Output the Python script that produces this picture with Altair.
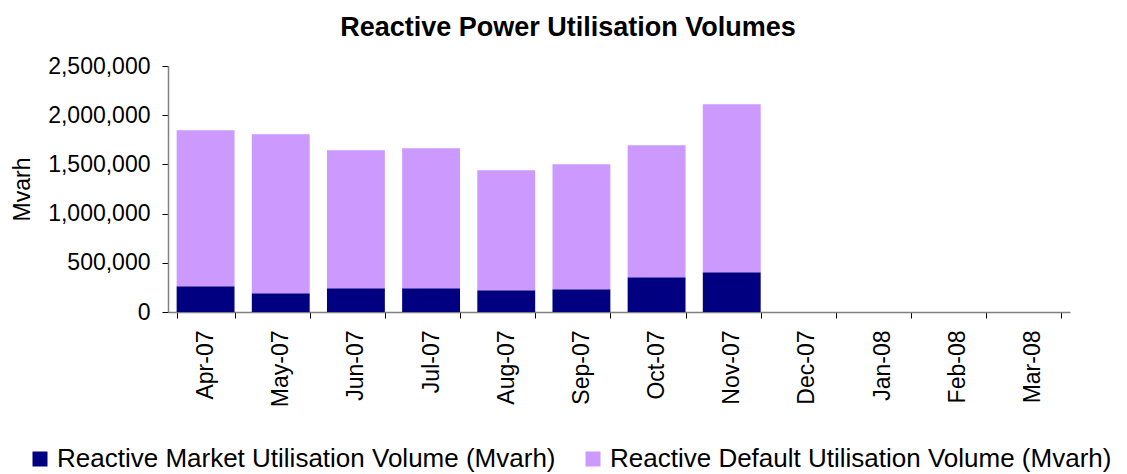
import altair as alt
import pandas as pd

months = ["Apr-07", "May-07", "Jun-07", "Jul-07", "Aug-07", "Sep-07",
          "Oct-07", "Nov-07", "Dec-07", "Jan-08", "Feb-08", "Mar-08"]
market = [261000, 190000, 241000, 241000, 220000, 231000, 353000, 403000, 0, 0, 0, 0]
default = [1585000, 1616000, 1402000, 1422000, 1220000, 1270000, 1341000, 1708000, 0, 0, 0, 0]
series = ["Reactive Market Utilisation Volume (Mvarh)",
          "Reactive Default Utilisation Volume (Mvarh)"]
colors = ["#000080", "#CC99FF"]

rows = []
for i, m in enumerate(months):
    rows.append({"month": m, "series": series[0], "value": market[i], "ord": 0})
    rows.append({"month": m, "series": series[1], "value": default[i], "ord": 1})
df = pd.DataFrame(rows)

FONT = "Liberation Sans"

chart = alt.Chart(df).mark_bar().encode(
    x=alt.X("month:N", sort=months,
            scale=alt.Scale(paddingInner=0.23, paddingOuter=0.115),
            axis=alt.Axis(title=None, labelAngle=270, labelFontSize=23,
                          labelFont=FONT, labelColor="black", labelPadding=12,
                          tickBand="extent", tickSize=6, tickColor="black",
                          domainColor="#808080", domainWidth=1.5)),
    y=alt.Y("value:Q", stack="zero",
            scale=alt.Scale(domain=[0, 2500000], nice=False),
            axis=alt.Axis(title="Mvarh", values=[0, 500000, 1000000, 1500000, 2000000, 2500000],
                          format=",d", grid=False, labelFontSize=23, labelFont=FONT,
                          labelColor="black", labelPadding=12, tickSize=6,
                          tickColor="black", domainColor="#808080", domainWidth=1.5,
                          titleFont=FONT, titleFontSize=23, titleFontWeight="normal",
                          titleColor="black", titleX=-146, titleY=123,
                          titleAlign="center", titleBaseline="middle")),
    color=alt.Color("series:N",
                    scale=alt.Scale(domain=series, range=colors),
                    legend=alt.Legend(title=None, orient="none", direction="horizontal",
                                      legendX=-141, legendY=380, symbolType="square",
                                      symbolSize=225, symbolStrokeWidth=0,
                                      labelFont=FONT, labelFontSize=26, labelColor="black",
                                      labelLimit=800, columnPadding=24, labelOffset=4)),
    order=alt.Order("ord:Q", sort="ascending"),
).properties(
    width=902, height=246,
    autosize=alt.AutoSizeParams(type="none"),
    padding={"left": 160, "top": 58, "right": 45, "bottom": 162},
    title=alt.Title("Reactive Power Utilisation Volumes", font=FONT, fontSize=27,
                    fontWeight="bold", color="black", anchor="middle", dx=-51,
                    offset=17, dy=25, baseline="alphabetic"),
).configure_view(stroke=None)

chart.save("out.html", embed_options={"renderer": "svg", "actions": False})
